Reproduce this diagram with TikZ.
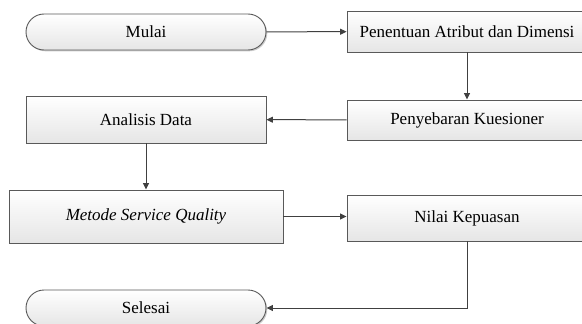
\documentclass[tikz,border=0pt]{standalone}
\usepackage{fontspec}
\setmainfont{Liberation Serif}
\usetikzlibrary{arrows.meta,positioning,shadows}

\tikzset{
    box/.style={draw=black!65, line width=0.9pt, top color=white, bottom color=black!10,
        drop shadow={shadow xshift=1.3pt, shadow yshift=-1.3pt, opacity=0.4},
        minimum width=240pt, inner sep=0pt, align=center},
    term/.style={box, rounded corners=18pt, minimum height=36pt},
    line/.style={draw=black!75, line width=1pt},
    arr/.style={line, -{Triangle[length=6.5pt,width=6pt]}}
}

\begin{document}
\begin{tikzpicture}[x=1pt, y=-1pt, font=\fontsize{17}{20}\selectfont]
        \useasboundingbox (0,0) rectangle (582,324);
        \clip (0,0) rectangle (582,324);

        \node[term] (mulai) at (146,32) {Mulai};
        \node[box, minimum height=41pt] (atribut) at (467,31.5) {Penentuan Atribut dan Dimensi};
        \node[box, minimum height=40pt] (sebar) at (467,120) {Penyebaran Kuesioner};
        \node[box, minimum height=47pt] (analisis) at (146,119.5) {Analisis Data};
        \node[box, minimum width=274pt, minimum height=53pt] (metode) at (146,216.5) {\textit{Metode Service Quality}};
        \node[box, minimum height=46pt] (nilai) at (467,218) {Nilai Kepuasan};
        \node[term] (selesai) at (146,308) {Selesai};

        \draw[arr] (mulai) -- (atribut);
        \draw[arr] (atribut) -- (sebar);
        \draw[arr] (sebar) -- (analisis);
        \draw[arr] (analisis) -- (metode);
        \draw[arr] (metode.east) -- (metode.east -| nilai.west);
        \draw[arr] (nilai.south) |- (selesai.east);
    \end{tikzpicture}
\end{document}
